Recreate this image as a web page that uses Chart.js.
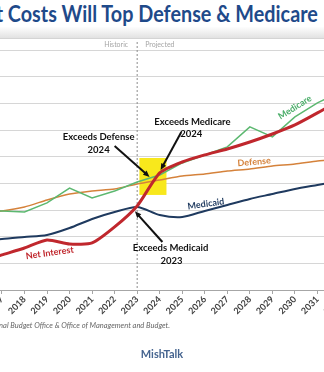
<!DOCTYPE html>
<html lang="en">
<head>
<meta charset="UTF-8">
<title>Interest Costs</title>
<script src="https://cdn.jsdelivr.net/npm/chart.js"></script>
<style>
  body { margin: 0; background: #fff; }
  #wrap { position: relative; width: 324px; height: 372px; overflow: hidden; font-family: Lato, sans-serif; }
  #title { position: absolute; right: 6px; top: 3px; line-height: 22px; white-space: nowrap; font-weight: bold; font-size: 22px; color: #1f4a8a; transform-origin: right top; }
  #band { position: absolute; left: 0; top: 27px; width: 324px; height: 11px; background: linear-gradient(#fdfdfd, #e2e2e2); border-bottom: 1px solid #d4d4d4; }
  #source { position: absolute; right: 154px; top: 321px; white-space: nowrap; font-style: italic; font-size: 7.5px; color: #666; }
  #brand { position: absolute; left: 0; width: 324px; top: 347px; text-align: center; font-weight: bold; font-size: 11px; color: #45648f; }
  #mycanvas { position: absolute; left: -60px; top: 0; }
</style>
</head>
<body>
<div id="wrap">
  <div id="title">Interest <span id="main">Costs Will Top Defense &amp; Medicare</span></div>
  <div id="band"></div>
  <canvas id="mycanvas" width="440" height="372"></canvas>
  <div id="source">Source: Congressional Budget Office &amp; Office of Management and Budget.</div>
  <div id="brand">MishTalk</div>
</div>
<script>
  // 年份 (x 軸)
  const years = ['2016', '2017', '2018', '2019', '2020', '2021', '2022', '2023', '2024',
    '2025', '2026', '2027', '2028', '2029', '2030', '2031', '2032']

  // 各項支出 (十億美元，從圖上估計)
  const netInterest = [210, 263, 315, 375, 345, 353, 473, 630, 878, 960, 1013, 1058, 1110, 1170, 1238, 1328, 1425]
  const medicare = [600, 593, 585, 653, 765, 690, 743, 810, 863, 953, 1013, 1073, 1223, 1148, 1298, 1403, 1485]
  const defense = [578, 593, 623, 675, 720, 743, 758, 795, 825, 855, 870, 893, 908, 930, 945, 968, 983]
  const medicaid = [375, 383, 398, 413, 465, 533, 585, 623, 563, 548, 593, 638, 683, 720, 758, 788, 818]

  // 說明文字: [文字, 年, 值]
  const callouts = [
    ['Exceeds Defense', 2021.29, 1148], ['2024', 2021.29, 1050],
    ['Exceeds Medicare', 2025.45, 1260], ['2024', 2025.4, 1170],
    ['Exceeds Medicaid', 2024.48, 315], ['2023', 2024.52, 218]
  ]
  // 箭頭: [起點年, 起點值, 終點年, 終點值]
  const arrows = [
    [2022.0, 1080, 2023.55, 848],
    [2024.96, 1185, 2024.04, 900],
    [2024.12, 360, 2022.9, 590]
  ]
  // 線名稱: [文字, 年, 值, 角度, 顏色]
  const seriesTags = [
    ['Net Interest', 2019.12, 278, -8, '#c0272d'],
    ['Medicaid', 2026.05, 645, -8, '#1f3a5f'],
    ['Defense', 2028.19, 960, -5, '#d5823b'],
    ['Medicare', 2030.0, 1370, -32, '#4cae6a']
  ]
  const splitYear = 2023
  const boxYears = [2023.1, 2024.3]
  const boxValues = [713, 990]

  // 標題寬度配合原圖
  const main = document.getElementById('main')
  const title = document.getElementById('title')
  title.style.transform = 'scaleX(' + (310 / main.getBoundingClientRect().width) + ')'

  const notes = {
    id: 'notes',
    beforeDatasetsDraw(chart) {
      const { ctx, scales: { x, y }, chartArea } = chart
      const px = yr => x.getPixelForValue(yr - Number(years[0]))
      ctx.save()
      // 黃色方塊
      ctx.fillStyle = '#f8e81c'
      ctx.fillRect(px(boxYears[0]), y.getPixelForValue(boxValues[1]),
        px(boxYears[1]) - px(boxYears[0]), y.getPixelForValue(boxValues[0]) - y.getPixelForValue(boxValues[1]))
      // 歷史 / 預測 分隔線
      const sx = px(splitYear)
      ctx.strokeStyle = '#8c8c8c'
      ctx.lineWidth = 1
      ctx.setLineDash([2, 2])
      ctx.beginPath()
      ctx.moveTo(sx, chartArea.top - 8)
      ctx.lineTo(sx, chartArea.bottom)
      ctx.stroke()
      ctx.setLineDash([])
      ctx.font = '7px Lato'
      ctx.fillStyle = '#a6a6a6'
      ctx.textBaseline = 'middle'
      ctx.textAlign = 'right'
      ctx.fillText('Historic', sx - 9, chartArea.top - 5)
      ctx.textAlign = 'left'
      ctx.fillText('Projected', sx + 8, chartArea.top - 5)
      ctx.restore()
    },
    afterDatasetsDraw(chart) {
      const { ctx, scales: { x, y } } = chart
      const px = yr => x.getPixelForValue(yr - Number(years[0]))
      ctx.save()
      ctx.textAlign = 'center'
      ctx.textBaseline = 'middle'
      ctx.fillStyle = '#111'
      ctx.font = 'bold 9.5px Lato'
      callouts.forEach(c => ctx.fillText(c[0], px(c[1]), y.getPixelForValue(c[2])))
      ctx.strokeStyle = '#111'
      ctx.lineWidth = 2
      arrows.forEach(a => {
        const x1 = px(a[0]), y1 = y.getPixelForValue(a[1])
        const x2 = px(a[2]), y2 = y.getPixelForValue(a[3])
        const ang = Math.atan2(y2 - y1, x2 - x1)
        ctx.beginPath()
        ctx.moveTo(x1, y1)
        ctx.lineTo(x2 - 4 * Math.cos(ang), y2 - 4 * Math.sin(ang))
        ctx.stroke()
        ctx.beginPath()
        ctx.moveTo(x2, y2)
        ctx.lineTo(x2 - 7 * Math.cos(ang - 0.4), y2 - 7 * Math.sin(ang - 0.4))
        ctx.lineTo(x2 - 7 * Math.cos(ang + 0.4), y2 - 7 * Math.sin(ang + 0.4))
        ctx.closePath()
        ctx.fillStyle = '#111'
        ctx.fill()
      })
      seriesTags.forEach(t => {
        ctx.save()
        ctx.translate(px(t[1]), y.getPixelForValue(t[2]))
        ctx.rotate(t[3] * Math.PI / 180)
        ctx.fillStyle = t[4]
        ctx.font = 'bold 9px Lato'
        ctx.fillText(t[0], 0, 0)
        ctx.restore()
      })
      ctx.restore()
    }
  }

  new Chart(document.getElementById('mycanvas'), {
    type: 'line',
    plugins: [notes],
    data: {
      labels: years,
      datasets: [
        { label: 'Net Interest', data: netInterest, borderColor: '#c0272d', borderWidth: 3, tension: 0.2 },
        { label: 'Medicare', data: medicare, borderColor: '#5cb870', borderWidth: 1.5, tension: 0 },
        { label: 'Defense', data: defense, borderColor: '#d5823b', borderWidth: 1.5, tension: 0.2 },
        { label: 'Medicaid', data: medicaid, borderColor: '#1f3a5f', borderWidth: 2, tension: 0.25 }
      ]
    },
    options: {
      responsive: false,
      animation: false,
      layout: { padding: { left: 39.4, right: 40, top: 50, bottom: 0 } },
      elements: { point: { radius: 0 } },
      plugins: { legend: { display: false }, tooltip: { enabled: false } },
      scales: {
        x: {
          grid: { drawOnChartArea: false, tickLength: 4, color: '#a6a6a6' },
          border: { color: '#a6a6a6' },
          ticks: {
            minRotation: 45, maxRotation: 45, autoSkip: false, padding: 0,
            color: '#404040', font: { family: 'Lato', weight: 'bold', size: 9 }
          },
          afterFit: s => { s.height = 82 }
        },
        y: {
          min: 0, max: 1800,
          ticks: { stepSize: 200, display: false },
          grid: { color: '#d6d6d6', drawTicks: false },
          border: { display: false },
          afterFit: s => { s.width = 0 }
        }
      }
    }
  })
</script>
</body>
</html>
